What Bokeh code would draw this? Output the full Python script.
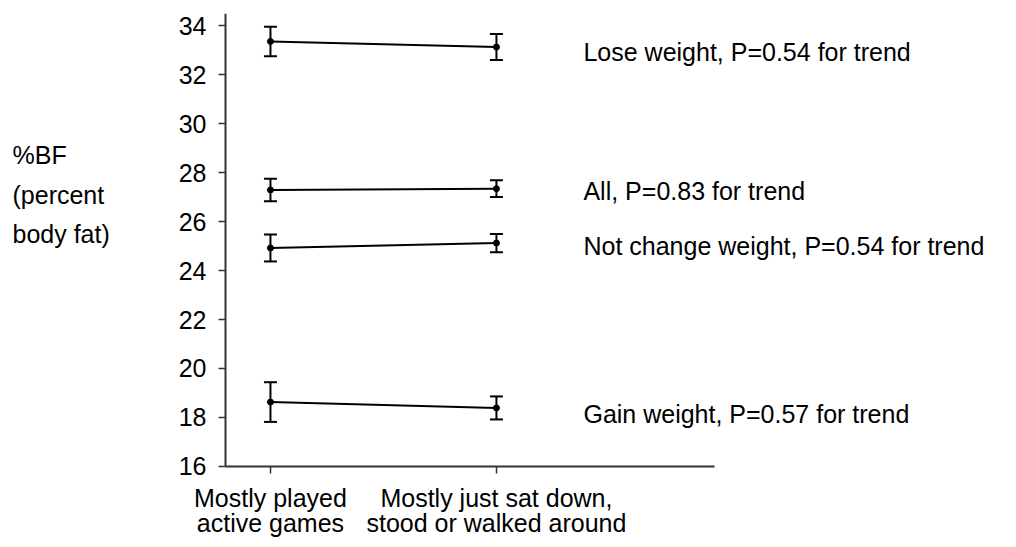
from bokeh.plotting import figure
from bokeh.models import ColumnDataSource, Whisker, TeeHead, Label, FixedTicker, Range1d
from bokeh.core.properties import value
from bokeh.embed import file_html
from bokeh.resources import INLINE

# ---- data ----
categories = ["Mostly played\nactive games", "Mostly just sat down,\nstood or walked around"]
x_pos = [1, 2]
group_labels = ["Lose weight, P=0.54 for trend", "All, P=0.83 for trend",
                "Not change weight, P=0.54 for trend", "Gain weight, P=0.57 for trend"]
lose_mean = [33.35, 33.12]
lose_err = [0.60, 0.53]
all_mean = [27.29, 27.34]
all_err = [0.46, 0.34]
nochange_mean = [24.92, 25.12]
nochange_err = [0.55, 0.37]
gain_mean = [18.63, 18.39]
gain_err = [0.81, 0.47]
y_ticks = [16, 18, 20, 22, 24, 26, 28, 30, 32, 34]
y_title = ["%BF", "(percent", "body fat)"]

series = [(lose_mean, lose_err), (all_mean, all_err),
          (nochange_mean, nochange_err), (gain_mean, gain_err)]

# ---- layout constants ----
FONT = "Liberation Sans"
FS = "25px"
AXIS_X = 0.801               # where the y axis sits
AXIS_Y = 16                  # where the x axis sits
X0, X1 = -0.1946, 4.266
Y0, Y1 = 12.857, 34.49

p = figure(width=1008, height=543, output_backend="svg", toolbar_location=None,
           x_range=Range1d(X0, X1), y_range=Range1d(Y0, Y1),
           min_border_left=0, min_border_right=0, min_border_top=13, min_border_bottom=0)
p.outline_line_color = None
p.grid.visible = False
p.background_fill_color = "white"
p.border_fill_color = "white"

for ax in (p.xaxis[0], p.yaxis[0]):
    ax.axis_line_color = "#333333"
    ax.axis_line_width = 2
    ax.major_tick_line_color = "#333333"
    ax.major_tick_line_width = 1.5
    ax.major_tick_out = 7
    ax.major_tick_in = 0
    ax.minor_tick_line_color = None
    ax.major_label_text_font = FONT
    ax.major_label_text_font_size = FS
    ax.major_label_text_color = "black"

p.yaxis.ticker = FixedTicker(ticks=y_ticks)
p.yaxis.major_label_standoff = 12
p.yaxis.bounds = (AXIS_Y, Y1)
p.yaxis.fixed_location = AXIS_X

p.xaxis.ticker = FixedTicker(ticks=x_pos)
p.xaxis.major_label_overrides = {x: c for x, c in zip(x_pos, categories)}
p.xaxis.major_label_standoff = 11
p.xaxis.major_label_text_line_height = 0.88
p.xaxis.bounds = (AXIS_X, 2.965)
p.xaxis.fixed_location = AXIS_Y

for (m, e), lab in zip(series, group_labels):
    src = ColumnDataSource(dict(x=x_pos, y=m,
                                lo=[a - b for a, b in zip(m, e)],
                                hi=[a + b for a, b in zip(m, e)]))
    p.line("x", "y", source=src, line_color="black", line_width=2)
    p.scatter("x", "y", source=src, size=6, color="black")
    w = Whisker(base="x", upper="hi", lower="lo", source=src, dimension="height",
                line_color="black", line_width=2,
                upper_head=TeeHead(size=13, line_color="black", line_width=2),
                lower_head=TeeHead(size=13, line_color="black", line_width=2))
    p.add_layout(w)

# right-hand group labels (positioned near each series' second point)
label_x = 2.385
label_dy = [-0.22, -0.08, -0.10, -0.25]
for (m, e), lab, dy in zip(series, group_labels, label_dy):
    p.add_layout(Label(x=label_x, y=m[1] + dy, text=lab, text_font=FONT,
                       text_font_size=FS, text_baseline="middle", text_align="left",
                       text_color="black"))

# y title (three lines, left of the axis)
title_x = -0.1415
title_y = [28.72, 27.08, 25.47]
for t, ty in zip(y_title, title_y):
    p.add_layout(Label(x=title_x, y=ty, text=t, text_font=FONT, text_font_size=FS,
                       text_baseline="middle", text_align="left", text_color="black"))

open("out.html", "w").write(file_html(p, INLINE))
